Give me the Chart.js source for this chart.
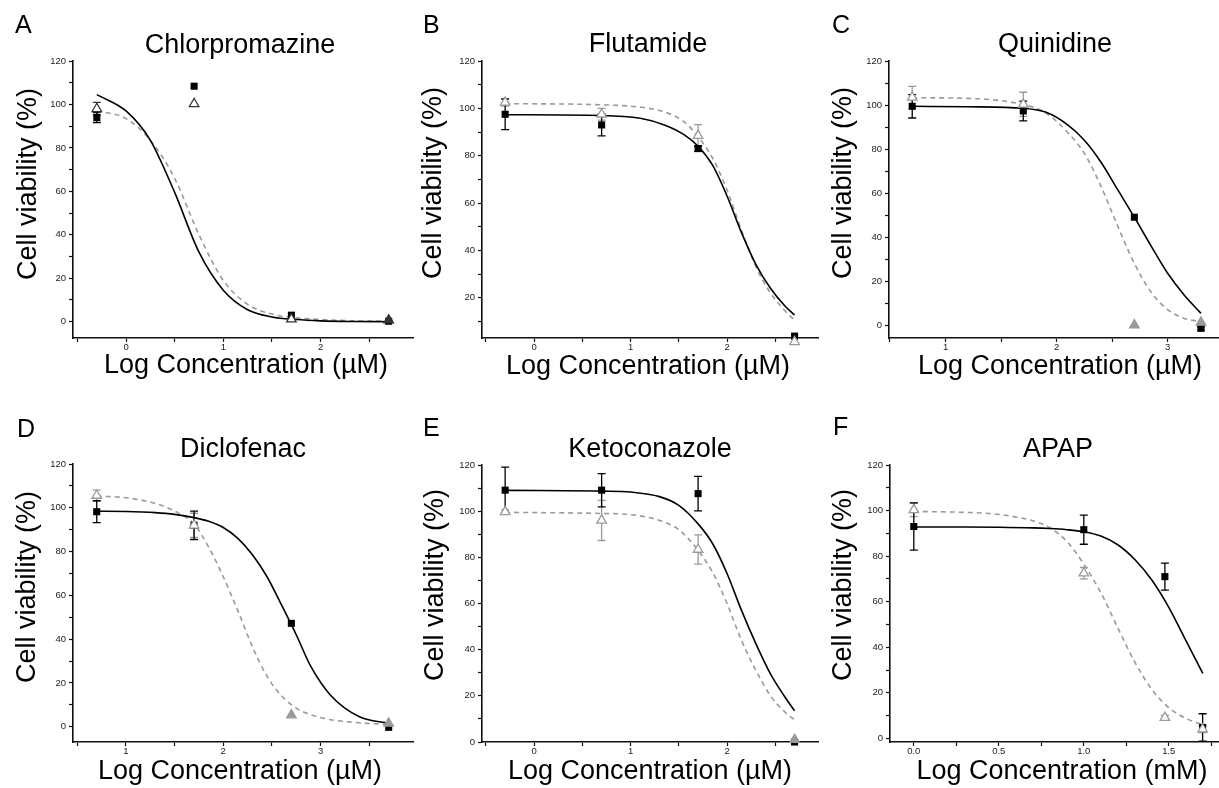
<!DOCTYPE html>
<html><head><meta charset="utf-8">
<script src="https://cdn.jsdelivr.net/npm/chart.js@4.4.1/dist/chart.umd.min.js"></script>
<style>
html,body{margin:0;padding:0;background:#fff;overflow:hidden;width:1219px;height:788px;position:relative;}
canvas{position:absolute;}
</style></head><body>
<canvas id="cA"></canvas><canvas id="cB"></canvas><canvas id="cC"></canvas>
<canvas id="cD"></canvas><canvas id="cE"></canvas><canvas id="cF"></canvas>
<script>
// ---------- Data ----------
// A: Chlorpromazine
const A_x = [-0.3, 0.7, 1.7, 2.7];
const A_sq = [94.0, 108.4, 3.0, 0.2];
const A_sqErr = [2.3, 0, 0, 0];
const A_tri = [98.0, 100.3, 1.2, 0.7];
const A_triErr = [3.0, 0, 0, 0];
const A_fitX = [-0.3, 0, 0.25, 0.5, 0.75, 1.0, 1.25, 1.5, 1.75, 2.0, 2.35, 2.7];
const A_fitSolid = [104.5, 97, 83.5, 59.5, 32, 14.5, 5.5, 2.2, 1.0, 0.4, 0.1, 0];
const A_fitDash = [97, 93.5, 83.5, 66, 40, 19, 8, 3.5, 1.8, 1.0, 0.4, 0.2];
// B: Flutamide
const B_x = [-0.3, 0.7, 1.7, 2.7];
const B_sq = [97.5, 93.0, 83.0, 3.8];
const B_sqErr = [6.5, 4.6, 1.2, 0];
const B_tri = [102.5, 97.5, 88.5, 1.4];
const B_triErr = [1.5, 2.5, 4.6, 0];
const B_fitX = [-0.3, 0.7, 1.1, 1.35, 1.55, 1.7, 1.85, 2.0, 2.15, 2.3, 2.45, 2.6, 2.7];
const B_fitSolid = [97.3, 97.0, 95.8, 93.0, 89.0, 84.0, 76.0, 63.0, 47.5, 34.0, 24.0, 16.5, 12.7];
const B_fitDash = [102.0, 101.5, 100.5, 98.5, 94.5, 88.0, 79.0, 65.5, 48.5, 33.0, 22.0, 14.5, 10.5];
// C: Quinidine
const C_x = [0.7, 1.7, 2.7, 3.3];
const C_sq = [99.4, 97.3, 49.0, -1.5];
const C_sqErr = [5.3, 4.5, 0, 0.8];
const C_tri = [103.5, 100.3, 0.0, 1.2];
const C_triErr = [5.0, 5.5, 0, 0];
const C_triFilled = [2, 3];
const C_fitX = [0.7, 1.2, 1.7, 1.9, 2.1, 2.25, 2.4, 2.55, 2.7, 2.85, 3.0, 3.15, 3.3];
const C_fitSolid = [99.4, 99.2, 98.5, 96.8, 91.0, 84.0, 74.0, 61.5, 49.0, 36.0, 23.5, 13.5, 5.3];
const C_fitDash = [103.3, 103.0, 100.2, 96.5, 87.5, 78.0, 63.0, 45.0, 28.0, 15.0, 7.0, 3.0, 1.5];
// D: Diclofenac
const D_x = [0.7, 1.7, 2.7, 3.7];
const D_sq = [98.2, 92.0, 47.2, -0.3];
const D_sqErr = [5.0, 6.5, 0, 0];
const D_tri = [105.6, 92.0, 5.3, 1.5];
const D_triErr = [2.5, 5.5, 0, 0];
const D_triFilled = [2, 3];
const D_fitX = [0.7, 1.0, 1.3, 1.5, 1.7, 1.85, 2.0, 2.15, 2.3, 2.45, 2.6, 2.75, 2.9, 3.1, 3.4, 3.7];
const D_fitSolid = [98.4, 98.3, 97.8, 97.0, 95.5, 93.8, 91.0, 86.0, 78.5, 68.5, 55.5, 42.0, 27.5, 14.5, 4.5, 1.5];
const D_fitDash = [105.3, 104.6, 102.0, 98.5, 92.5, 82.0, 68.5, 53.0, 36.5, 23.0, 14.0, 8.5, 5.5, 3.2, 1.8, 1.0];
// E: Ketoconazole
const E_x = [-0.3, 0.7, 1.7, 2.7];
const E_sq = [109.1, 109.1, 107.6, 0.0];
const E_sqErr = [10.0, 7.2, 7.5, 0];
const E_tri = [99.7, 96.0, 83.4, 1.0];
const E_triErr = [1.0, 8.7, 6.3, 0];
const E_triFilled = [3];
const E_fitX = [-0.3, 0.7, 1.0, 1.3, 1.5, 1.7, 1.85, 2.0, 2.15, 2.3, 2.45, 2.6, 2.7];
const E_fitSolid = [109.0, 108.7, 108.3, 106.3, 102.5, 94.5, 86.0, 73.0, 57.0, 42.5, 29.5, 19.5, 13.5];
const E_fitDash = [99.5, 99.0, 98.5, 96.0, 92.0, 83.0, 73.5, 60.0, 44.0, 31.0, 20.0, 13.0, 9.5];
// F: APAP
const F_x = [0, 1.0, 1.477, 1.699];
const F_sq = [93.0, 91.6, 71.0, 4.8];
const F_sqErr = [10.4, 6.4, 5.9, 6.0];
const F_tri = [100.3, 72.5, 9.1, 4.0];
const F_triErr = [3.0, 2.5, 1.0, 1.5];
const F_fitX = [0, 0.3, 0.5, 0.7, 0.8, 0.9, 1.0, 1.1, 1.2, 1.3, 1.4, 1.5, 1.6, 1.7];
const F_fitSolid = [92.8, 92.8, 92.7, 92.4, 92.1, 91.6, 90.7, 88.8, 85.0, 78.5, 69.5, 57.5, 43.0, 28.5];
const F_fitDash = [99.6, 99.2, 98.3, 95.5, 92.5, 86.5, 76.5, 64.0, 48.5, 33.5, 21.5, 13.5, 8.8, 5.9];

// ---------- Tick labels ----------
const Y_major = [0, 20, 40, 60, 80, 100, 120];
const Y_majorLabels = ['0', '20', '40', '60', '80', '100', '120'];
const Y_minor = [10, 30, 50, 70, 90, 110];
const X_majorAB = [0, 1, 2];
const X_labelsAB = ['0', '1', '2'];
const X_minorAB = [-0.5, 0.5, 1.5, 2.5];
const X_majorCD = [1, 2, 3];
const X_labelsCD = ['1', '2', '3'];
const X_minorCD = [0.5, 1.5, 2.5, 3.5];
const X_majorF = [0, 0.5, 1.0, 1.5];
const X_labelsF = ['0.0', '0.5', '1.0', '1.5'];
const X_minorF = [0.25, 0.75, 1.25, 1.75];

// ---------- Texts ----------
const letters = ['A', 'B', 'C', 'D', 'E', 'F'];
const titles = ['Chlorpromazine', 'Flutamide', 'Quinidine', 'Diclofenac', 'Ketoconazole', 'APAP'];
const yTitle = 'Cell viability (%)';
const xTitleUM = 'Log Concentration (\u00B5M)';
const xTitleMM = 'Log Concentration (mM)';

// ---------- Rendering ----------
const FONT = '"Liberation Sans", Arial, Helvetica, sans-serif';
const GRAY = '#9a9a9a';

function pts(xs, ys) { return xs.map((x, i) => ({x: x, y: ys[i]})); }
function labelFor(v, major, labels) {
  for (let i = 0; i < major.length; i++) if (Math.abs(v - major[i]) < 1e-6) return labels[i];
  return '';
}

const errPlugin = {
  id: 'errbars',
  beforeDatasetsDraw(chart) {
    const ctx = chart.ctx, xs = chart.scales.x, ys = chart.scales.y;
    chart.data.datasets.forEach(ds => {
      if (!ds.errors) return;
      ctx.save();
      ctx.strokeStyle = ds.errColor;
      ctx.lineWidth = 1.3;
      ds.data.forEach((p, i) => {
        const e = ds.errors[i];
        if (!e) return;
        const px = xs.getPixelForValue(p.x);
        const yt = ys.getPixelForValue(p.y + e), yb = ys.getPixelForValue(p.y - e);
        ctx.beginPath();
        ctx.moveTo(px, yt); ctx.lineTo(px, yb);
        ctx.moveTo(px - 4, yt); ctx.lineTo(px + 4, yt);
        ctx.moveTo(px - 4, yb); ctx.lineTo(px + 4, yb);
        ctx.stroke();
      });
      ctx.restore();
    });
  }
};

function makePanel(p) {
  const cv = document.getElementById(p.id);
  cv.width = p.cw; cv.height = p.ch;
  cv.style.left = p.cx + 'px'; cv.style.top = p.cy + 'px';
  const yW = 50, xH = 30;
  const pad = {
    left: p.area.l - p.cx - yW,
    top: p.area.t - p.cy,
    right: p.cx + p.cw - p.area.r,
    bottom: p.cy + p.ch - p.area.b - xH
  };
  const textPlugin = {
    id: 'panelText',
    afterDraw(chart) {
      const ctx = chart.ctx;
      const ox = p.cx, oy = p.cy;
      ctx.save();
      ctx.fillStyle = '#000';
      ctx.textBaseline = 'alphabetic';
      ctx.font = '25px ' + FONT; ctx.textAlign = 'left';
      ctx.fillText(p.letter, p.letterPos[0] - ox, p.letterPos[1] - oy);
      ctx.font = '27px ' + FONT; ctx.textAlign = 'center';
      ctx.fillText(p.title, p.titlePos[0] - ox, p.titlePos[1] - oy);
      ctx.font = '27px ' + FONT;
      ctx.fillText(p.xTitle, p.xTitlePos[0] - ox, p.xTitlePos[1] - oy);
      ctx.translate(p.yTitlePos[0] - ox, p.yTitlePos[1] - oy);
      ctx.rotate(-Math.PI / 2);
      ctx.fillText(yTitle, 0, 0);
      ctx.restore();
    }
  };
  const triColor = p.triColor || GRAY;
  const filled = p.triFilled || [];
  const xTicks = p.xMajor.concat(p.xMinor).filter(v => v >= p.xmin - 1e-9 && v <= p.xmax + 1e-9).sort((a, b) => a - b);
  const yTicks = Y_major.concat(Y_minor).filter(v => v >= p.ymin - 1e-9 && v <= p.ymax + 1e-9).sort((a, b) => a - b);
  const axisCommon = {
    grid: {display: true, drawOnChartArea: false, drawTicks: true, tickLength: 4, tickColor: '#111', tickWidth: 1.2},
    border: {display: true, color: '#111', width: 1.6}
  };
  new Chart(cv, {
    type: 'scatter',
    data: {
      datasets: [
        {
          data: pts(p.x, p.tri), pointStyle: 'triangle', pointRadius: 5.5,
          pointBackgroundColor: (c) => filled.includes(c.dataIndex) ? triColor : '#fff',
          pointBorderColor: triColor, pointBorderWidth: 1.3, showLine: false,
          errors: p.triErr, errColor: triColor, clip: false
        },
        {
          data: pts(p.x, p.sq), pointStyle: 'rect', pointRadius: 5,
          pointBackgroundColor: '#000', pointBorderColor: '#000', pointBorderWidth: 0, showLine: false,
          errors: p.sqErr, errColor: '#000', clip: false
        },
        {
          data: pts(p.fitX, p.fitSolid), showLine: true, borderColor: '#000', borderWidth: 1.6,
          pointRadius: 0, cubicInterpolationMode: 'monotone', fill: false
        },
        {
          data: pts(p.fitX, p.fitDash), showLine: true, borderColor: GRAY, borderWidth: 1.6,
          borderDash: [5, 4], pointRadius: 0, cubicInterpolationMode: 'monotone', fill: false
        }
      ]
    },
    options: {
      responsive: false, animation: false, events: [],
      layout: {padding: pad},
      plugins: {legend: {display: false}, tooltip: {enabled: false}, title: {display: false}},
      scales: {
        x: Object.assign({}, axisCommon, {
          type: 'linear', position: 'bottom', min: p.xmin, max: p.xmax,
          afterBuildTicks: s => { s.ticks = xTicks.map(v => ({value: v})); },
          afterFit: s => { s.height = xH; },
          ticks: {autoSkip: false, maxRotation: 0, padding: 0, color: '#222',
            font: {size: 9.5, family: FONT},
            callback: v => labelFor(v, p.xMajor, p.xLabels)}
        }),
        y: Object.assign({}, axisCommon, {
          type: 'linear', position: 'left', min: p.ymin, max: p.ymax,
          afterBuildTicks: s => { s.ticks = yTicks.map(v => ({value: v})); },
          afterFit: s => { s.width = yW; },
          ticks: {autoSkip: false, padding: 3, color: '#222',
            font: {size: 9.5, family: FONT},
            callback: v => labelFor(v, Y_major, Y_majorLabels)}
        })
      }
    },
    plugins: [errPlugin, textPlugin]
  });
}

const panels = [
  {id: 'cA', cx: 0, cy: 0, cw: 420, ch: 390, area: {l: 73, t: 61, r: 413, b: 338},
   xmin: -0.545, xmax: 2.95, ymin: -7.5, ymax: 120,
   xMajor: X_majorAB, xLabels: X_labelsAB, xMinor: X_minorAB,
   x: A_x, sq: A_sq, sqErr: A_sqErr, tri: A_tri, triErr: A_triErr, triColor: '#333', triFilled: [3],
   fitX: A_fitX, fitSolid: A_fitSolid, fitDash: A_fitDash,
   letter: letters[0], title: titles[0], xTitle: xTitleUM,
   letterPos: [15, 33], titlePos: [240, 53], xTitlePos: [246, 373], yTitlePos: [36, 184]},
  {id: 'cB', cx: 405, cy: 0, cw: 420, ch: 390, area: {l: 482, t: 61, r: 820, b: 338},
   xmin: -0.54, xmax: 2.945, ymin: 3, ymax: 120,
   xMajor: X_majorAB, xLabels: X_labelsAB, xMinor: X_minorAB,
   x: B_x, sq: B_sq, sqErr: B_sqErr, tri: B_tri, triErr: B_triErr,
   fitX: B_fitX, fitSolid: B_fitSolid, fitDash: B_fitDash,
   letter: letters[1], title: titles[1], xTitle: xTitleUM,
   letterPos: [423, 33], titlePos: [648, 52], xTitlePos: [648, 374], yTitlePos: [441, 183]},
  {id: 'cC', cx: 810, cy: 0, cw: 420, ch: 390, area: {l: 889, t: 61, r: 1226, b: 338},
   xmin: 0.491, xmax: 3.5, ymin: -5.9, ymax: 120,
   xMajor: X_majorCD, xLabels: X_labelsCD, xMinor: X_minorCD,
   x: C_x, sq: C_sq, sqErr: C_sqErr, tri: C_tri, triErr: C_triErr, triFilled: C_triFilled,
   fitX: C_fitX, fitSolid: C_fitSolid, fitDash: C_fitDash,
   letter: letters[2], title: titles[2], xTitle: xTitleUM,
   letterPos: [832, 33], titlePos: [1055, 52], xTitlePos: [1060, 374], yTitlePos: [851, 183]},
  {id: 'cD', cx: 0, cy: 390, cw: 420, ch: 398, area: {l: 73, t: 464, r: 413, b: 742},
   xmin: 0.456, xmax: 3.95, ymin: -7.0, ymax: 120,
   xMajor: X_majorCD, xLabels: X_labelsCD, xMinor: X_minorCD,
   x: D_x, sq: D_sq, sqErr: D_sqErr, tri: D_tri, triErr: D_triErr, triFilled: D_triFilled,
   fitX: D_fitX, fitSolid: D_fitSolid, fitDash: D_fitDash,
   letter: letters[3], title: titles[3], xTitle: xTitleUM,
   letterPos: [17, 437], titlePos: [243, 457], xTitlePos: [240, 779], yTitlePos: [35, 587]},
  {id: 'cE', cx: 405, cy: 390, cw: 420, ch: 398, area: {l: 482, t: 465, r: 820, b: 742},
   xmin: -0.54, xmax: 2.945, ymin: 0, ymax: 120,
   xMajor: X_majorAB, xLabels: X_labelsAB, xMinor: X_minorAB,
   x: E_x, sq: E_sq, sqErr: E_sqErr, tri: E_tri, triErr: E_triErr, triFilled: E_triFilled,
   fitX: E_fitX, fitSolid: E_fitSolid, fitDash: E_fitDash,
   letter: letters[4], title: titles[4], xTitle: xTitleUM,
   letterPos: [423, 436], titlePos: [650, 457], xTitlePos: [650, 779], yTitlePos: [443, 585]},
  {id: 'cF', cx: 810, cy: 390, cw: 420, ch: 398, area: {l: 890, t: 465, r: 1226, b: 742},
   xmin: -0.14, xmax: 1.82, ymin: -1.6, ymax: 120,
   xMajor: X_majorF, xLabels: X_labelsF, xMinor: X_minorF,
   x: F_x, sq: F_sq, sqErr: F_sqErr, tri: F_tri, triErr: F_triErr,
   fitX: F_fitX, fitSolid: F_fitSolid, fitDash: F_fitDash,
   letter: letters[5], title: titles[5], xTitle: xTitleMM,
   letterPos: [833, 435], titlePos: [1058, 457], xTitlePos: [1062, 779], yTitlePos: [851, 585]}
];
panels.forEach(makePanel);
</script>
</body></html>
